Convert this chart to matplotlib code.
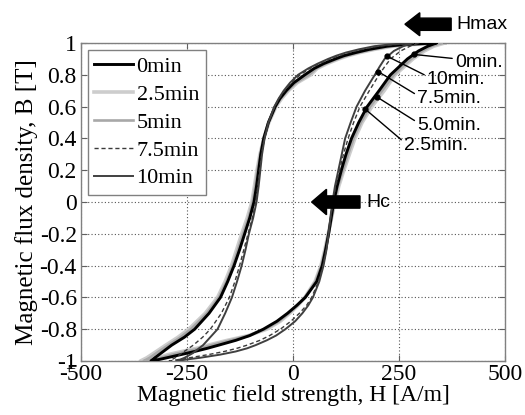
import matplotlib
matplotlib.use("Agg")
import matplotlib.pyplot as plt
from matplotlib.patches import FancyArrow

plt.rcParams["font.family"] = ["Liberation Serif", "DejaVu Serif"]
plt.rcParams["axes.unicode_minus"] = False

# B levels for the two branches of each loop
B_DOWN = [1.00, 0.99, 0.98, 0.96, 0.94, 0.92, 0.90, 0.87, 0.84, 0.80, 0.75,
          0.70, 0.65, 0.60, 0.50, 0.40, 0.30, 0.20, 0.10, 0.00, -0.10, -0.20,
          -0.30, -0.40, -0.50, -0.60, -0.70, -0.80, -0.85, -0.90, -0.95, -0.98, -1.00]
B_UP = [-1.00, -0.99, -0.98, -0.96, -0.94, -0.92, -0.90, -0.87, -0.84, -0.80, -0.75,
        -0.70, -0.65, -0.60, -0.50, -0.40, -0.30, -0.20, -0.10, 0.00, 0.10, 0.20,
        0.30, 0.40, 0.50, 0.60, 0.70, 0.80, 0.85, 0.90, 0.95, 0.98, 1.00]

# H [A/m] on descending branch (B_DOWN) and ascending branch (B_UP)
H_DOWN_0 = [335, 262, 222, 180, 148, 120, 100, 72, 50, 28, 2, -16, -31, -42, -58, -69,
            -76, -81, -86, -92, -102, -114, -126, -139, -154, -171, -198, -232, -256,
            -286, -311, -326, -335]
H_UP_0 = [-335, -315, -298, -265, -232, -202, -175, -135, -102, -70, -38, -13, 9, 29,
          56, 69, 77, 84, 90, 96, 104, 114, 125, 138, 155, 175, 203, 230, 250, 270,
          296, 318, 338]

H_DOWN_25 = [358, 280, 236, 192, 158, 130, 108, 80, 57, 42, 10, -11, -27, -40, -57, -69,
             -78, -85, -91, -97, -108, -121, -133, -145, -160, -178, -207, -246, -271,
             -300, -328, -345, -360]
H_UP_25 = [-360, -335, -318, -295, -262, -227, -200, -155, -105, -62, -30, -8, 12, 28,
           52, 66, 75, 83, 91, 99, 108, 120, 133, 146, 163, 186, 215, 241, 262, 283,
           310, 332, 358]

H_DOWN_5 = [350, 275, 232, 188, 155, 127, 105, 77, 55, 38, 7, -13, -29, -41, -58, -69,
            -77, -84, -89, -95, -105, -118, -130, -142, -157, -175, -203, -241, -265,
            -294, -322, -338, -352]
H_UP_5 = [-352, -328, -312, -285, -252, -218, -192, -148, -104, -66, -33, -10, 11, 28,
          53, 67, 76, 84, 91, 98, 106, 118, 130, 143, 160, 182, 210, 238, 258, 279,
          305, 326, 350]

H_DOWN_75 = [298, 238, 202, 163, 132, 108, 88, 62, 40, 17, -4, -20, -33, -43, -58, -68,
             -74, -79, -83, -88, -96, -106, -116, -126, -137, -150, -169, -195, -213,
             -235, -262, -278, -292]
H_UP_75 = [-292, -268, -245, -200, -162, -132, -108, -78, -55, -30, -5, 15, 32, 44,
           60, 71, 78, 84, 89, 94, 101, 110, 119, 130, 143, 158, 180, 203, 216, 230,
           254, 276, 298]

H_DOWN_10 = [283, 225, 192, 155, 125, 102, 83, 58, 36, 12, -7, -22, -34, -44, -58, -67,
             -73, -77, -81, -86, -94, -104, -112, -121, -132, -144, -160, -178, -195,
             -212, -236, -256, -275]
H_UP_10 = [-275, -250, -220, -172, -135, -108, -88, -62, -40, -18, 5, 22, 36, 47,
           62, 72, 79, 84, 88, 93, 99, 107, 115, 123, 136, 150, 170, 193, 204, 216,
           238, 260, 283]

LABELS = ["0min", "2.5min", "5min", "7.5min", "10min"]

# callout labels on the ascending branch: (text, H of dot, B of dot, H text, B text)
CALLOUTS = [
    ("0min.", 285, 0.928, 382, 0.88),
    ("10min.", 221, 0.918, 316, 0.77),
    ("7.5min.", 201, 0.82, 293, 0.65),
    ("5.0min.", 197, 0.662, 293, 0.48),
    ("2.5min.", 170, 0.585, 262, 0.355),
]

SANS = ["Liberation Sans", "DejaVu Sans"]

fig = plt.figure(figsize=(5.25, 4.15), dpi=100)
ax = fig.add_axes([0.1543, 0.1301, 0.8076, 0.7663])

styles = {
    "0min": dict(color="black", lw=2.1, ls="-", zorder=4),
    "2.5min": dict(color="#cdcdcd", lw=2.6, ls="-", zorder=2),
    "5min": dict(color="#a8a8a8", lw=1.9, ls="-", zorder=3),
    "7.5min": dict(color="#3a3a3a", lw=1.0, ls=(0, (3, 2)), zorder=5),
    "10min": dict(color="#404040", lw=1.4, ls="-", zorder=5),
}
loops = {
    "0min": (H_DOWN_0, H_UP_0),
    "2.5min": (H_DOWN_25, H_UP_25),
    "5min": (H_DOWN_5, H_UP_5),
    "7.5min": (H_DOWN_75, H_UP_75),
    "10min": (H_DOWN_10, H_UP_10),
}

for name in LABELS:
    hd, hu = loops[name]
    ax.plot(hd + hu, B_DOWN + B_UP, label=name, **styles[name])

ax.set_xlim(-500, 500)
ax.set_ylim(-1, 1)
ax.set_xticks([-500, -250, 0, 250, 500])
yt = [-1, -0.8, -0.6, -0.4, -0.2, 0, 0.2, 0.4, 0.6, 0.8, 1]
ax.set_yticks(yt)
ax.set_yticklabels(["-1", "-0.8", "-0.6", "-0.4", "-0.2", "0", "0.2", "0.4", "0.6", "0.8", "1"])
ax.tick_params(direction="in", length=4, width=0.8, labelsize=17, pad=3,
               top=True, right=True, color="#606060")
ax.tick_params(axis="x", pad=2)
ax.grid(True, ls=(0, (1, 2)), color="#555555", lw=0.8)
for sp in ax.spines.values():
    sp.set_color("#808080")
    sp.set_linewidth(1.0)

ax.set_xlabel("Magnetic field strength, H [A/m]", fontsize=17, labelpad=0)
ax.set_ylabel("Magnetic flux density, B [T]", fontsize=18, labelpad=1)

leg = ax.legend(loc="upper left", fontsize=16, handlelength=1.75, handletextpad=0.15,
                labelspacing=0.33, borderpad=0.3, borderaxespad=0.3, fancybox=False,
                framealpha=1)
leg.get_frame().set_edgecolor("#808080")
leg.get_frame().set_linewidth(1.0)

for text, hx, by, tx, ty in CALLOUTS:
    ax.plot([hx], [by], "o", color="black", ms=3.5, zorder=7)
    ax.annotate(text, xy=(hx, by), xytext=(tx, ty), ha="left", va="center",
                family=SANS, fontsize=14, zorder=7,
                arrowprops=dict(arrowstyle="-", color="black", lw=1.0,
                                relpos=(0, 0.7), shrinkA=0, shrinkB=0))

# block arrows: Hmax (above the frame) and Hc
ax.add_patch(FancyArrow(373, 1.118, -109, 0, width=0.077, head_width=0.145,
                        head_length=35, length_includes_head=True, color="black",
                        clip_on=False, zorder=8))
ax.text(385, 1.118, "Hmax", ha="left", va="center", fontsize=14, family=SANS,
        clip_on=False)
ax.add_patch(FancyArrow(158, 0.0, -114, 0, width=0.077, head_width=0.16,
                        head_length=35, length_includes_head=True, color="black",
                        zorder=8))
ax.text(172, 0.0, "Hc", ha="left", va="center", fontsize=14, family=SANS)

fig.savefig("out.png", dpi=100)
